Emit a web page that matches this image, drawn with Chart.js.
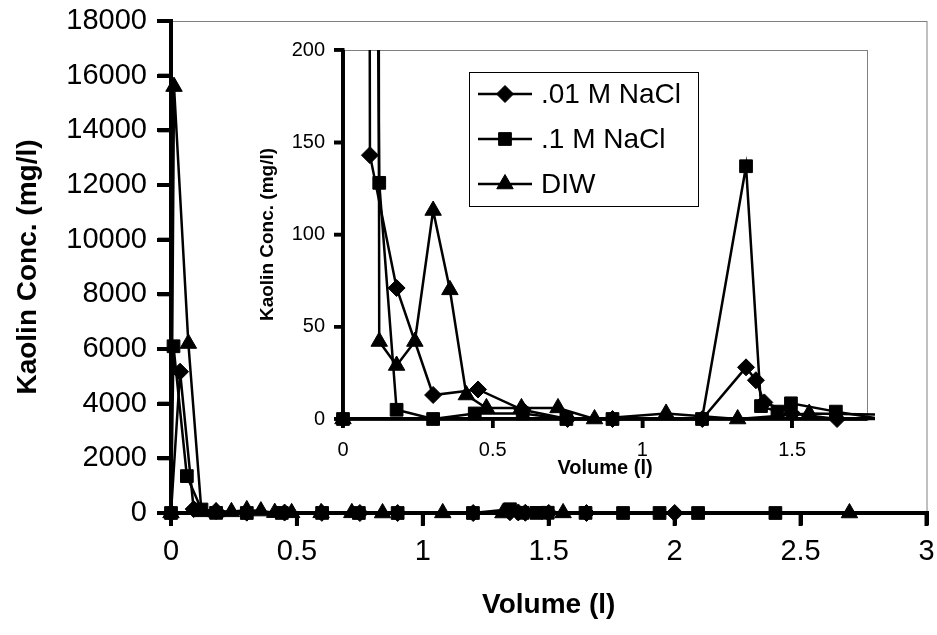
<!DOCTYPE html>
<html>
<head>
<meta charset="utf-8">
<script src="https://cdn.jsdelivr.net/npm/chart.js@4.4.0/dist/chart.umd.min.js"></script>
<style>
  body { margin: 0; background: #fff; }
  #wrap { position: relative; width: 937px; height: 635px; }
  #main { position: absolute; left: 0; top: 0; }
  #inset { position: absolute; left: 240px; top: 30px; }
</style>
</head>
<body>
<div id="wrap">
  <canvas id="main" width="937" height="635"></canvas>
  <canvas id="inset" width="640" height="460"></canvas>
</div>
<script>
// series data (volume in l, concentration in mg/l)
const seriesNames = ['.01 M NaCl', '.1 M NaCl', 'DIW'];

const lowVol  = [0, 0.036, 0.09, 0.179, 0.301, 0.451, 0.599, 0.75, 0.9, 1.2, 1.346, 1.379, 1.407, 1.5, 1.65, 2.0];
const lowConc = [0, 5170, 143, 71, 13, 16, 5, 0, 0, 0, 28, 21, 9, 3, 0, 0];

const highVol  = [0, 0.01, 0.063, 0.121, 0.179, 0.301, 0.44, 0.6, 0.746, 0.9, 1.199, 1.346, 1.396, 1.451, 1.496, 1.646, 1.795, 1.94, 2.093, 2.4];
const highConc = [0, 6100, 1350, 128, 5, 0, 3, 3, 0, 0, 0, 137, 7, 4, 8.5, 4, 0, 0, 0, 0];

const diwVol  = [0, 0.012, 0.069, 0.121, 0.179, 0.24, 0.301, 0.357, 0.412, 0.479, 0.596, 0.718, 0.84, 1.079, 1.318, 1.557, 2.694];
const diwConc = [0, 15600, 6200, 42, 29, 42, 113, 70, 13, 6, 6, 6, 0, 3, 0, 3, 0];

// tick values
const mainXTicks  = [0, 0.5, 1, 1.5, 2, 2.5, 3];
const mainYTicks  = [0, 2000, 4000, 6000, 8000, 10000, 12000, 14000, 16000, 18000];
const insetXTicks = [0, 0.5, 1, 1.5];
const insetYTicks = [0, 50, 100, 150, 200];

const FONT = "'Liberation Sans', Arial, sans-serif";

let pts = (xs, ys) => xs.map((x, i) => ({ x: x, y: ys[i] }));

let makeSets = () => [
  { label: seriesNames[0], data: pts(lowVol, lowConc), pointStyle: 'rectRot', pointRadius: 8.5 },
  { label: seriesNames[1], data: pts(highVol, highConc), pointStyle: 'rect', pointRadius: 9 },
  { label: seriesNames[2], data: pts(diwVol, diwConc), pointStyle: 'triangle', pointRadius: 9.5 }
].map(ds => Object.assign(ds, {
  showLine: true,
  borderColor: '#000',
  borderWidth: 2.5,
  backgroundColor: '#000',
  pointBackgroundColor: '#000',
  pointBorderColor: '#000',
  pointBorderWidth: 1,
  pointHoverRadius: ds.pointRadius,
  tension: 0
}));

// thin grey frame round the plot area, drawn under everything
const frame = {
  id: 'frame',
  beforeDraw(chart) {
    const a = chart.chartArea, ctx = chart.ctx;
    ctx.save();
    ctx.setLineDash([]);
    ctx.strokeStyle = '#808080';
    ctx.lineWidth = 1;
    ctx.strokeRect(a.left + 0.5, a.top + 0.5, a.right - a.left, a.bottom - a.top);
    ctx.restore();
  }
};

// heavy axis lines and outside tick marks, placed with the scales (filled, not stroked)
let axisMarks = (w, tick) => ({
  id: 'axisMarks',
  afterDraw(chart) {
    const ctx = chart.ctx, a = chart.chartArea;
    const xs = chart.scales.x, ys = chart.scales.y;
    ctx.save();
    ctx.globalAlpha = 1;
    ctx.globalCompositeOperation = 'source-over';
    ctx.fillStyle = '#000';
    ctx.fillRect(a.left - w / 2, a.top, w, a.bottom - a.top + w / 2);
    ctx.fillRect(a.left - w / 2, a.bottom - w / 2, a.right - a.left + w / 2, w);
    xs.ticks.forEach(t => {
      const px = xs.getPixelForValue(t.value);
      ctx.fillRect(px - w / 2, a.bottom, w, tick);
    });
    ys.ticks.forEach(t => {
      const py = ys.getPixelForValue(t.value);
      ctx.fillRect(a.left - tick, py - w / 2, tick, w);
    });
    ctx.restore();
  }
});

// boxed legend with line + marker samples
const boxLegend = {
  id: 'boxLegend',
  afterDraw(chart) {
    const ctx = chart.ctx;
    ctx.save();
    ctx.setLineDash([]);
    ctx.strokeStyle = '#000';
    ctx.lineWidth = 1;
    ctx.strokeRect(229.5, 42.5, 229, 134);
    ctx.font = '28px ' + FONT;
    ctx.textBaseline = 'middle';
    ctx.fillStyle = '#000';
    chart.data.datasets.forEach((ds, i) => {
      const y = 64 + i * 45;
      ctx.fillRect(238, y - 1.25, 54, 2.5);
      ctx.lineWidth = 1;
      Chart.helpers.drawPoint(ctx, { pointStyle: ds.pointStyle, radius: ds.pointRadius, borderWidth: 1, rotation: 0 }, 265, y);
      ctx.fillText(ds.label, 301, y + 1);
    });
    ctx.restore();
  }
};

let axis = (o) => ({
  type: 'linear',
  min: o.min, max: o.max,
  bounds: 'data',
  afterBuildTicks: s => { s.ticks = o.ticks.map(v => ({ value: v })); },
  afterFit: s => {
    if (o.width !== undefined) s.width = o.width;
    if (o.height !== undefined) s.height = o.height;
    s.paddingTop = 0; s.paddingBottom = 0; s.paddingLeft = 0; s.paddingRight = 0;
  },
  border: { display: true, color: '#000', width: o.line },
  grid: { display: true, drawOnChartArea: false, drawTicks: true, tickLength: o.tick, color: '#000', lineWidth: o.line },
  ticks: {
    autoSkip: false, maxRotation: 0, color: '#000', padding: o.pad,
    font: { family: FONT, size: o.size },
    callback: v => String(v)
  },
  title: {
    display: true, text: o.title, color: '#000',
    font: { family: FONT, size: o.titleSize, weight: 'bold' },
    padding: o.titlePad
  }
});

new Chart(document.getElementById('main'), {
  type: 'scatter',
  data: { datasets: makeSets() },
  options: {
    responsive: false, animation: false,
    layout: { padding: { top: 21, right: 10, left: 0, bottom: 0 } },
    plugins: { legend: { display: false }, tooltip: { enabled: false } },
    datasets: { scatter: { clip: false } },
    scales: {
      x: axis({ min: 0, max: 3, ticks: mainXTicks, height: 122, tick: 12, pad: 10, size: 29, line: 4,
                title: 'Volume (l)', titleSize: 28, titlePad: { top: 0, bottom: 13 } }),
      y: axis({ min: 0, max: 18000, ticks: mainYTicks, width: 171, tick: 14, pad: 10, size: 29, line: 4,
                title: 'Kaolin Conc. (mg/l)', titleSize: 28, titlePad: { top: 11, bottom: 0 } })
    }
  },
  plugins: [frame, axisMarks(4, 13)]
});

new Chart(document.getElementById('inset'), {
  type: 'scatter',
  data: { datasets: makeSets() },
  options: {
    responsive: false, animation: false,
    layout: { padding: { top: 20, right: 13, left: 0, bottom: 0 } },
    plugins: { legend: { display: false }, tooltip: { enabled: false } },
    datasets: { scatter: { clip: { left: 10, right: 8, top: 0, bottom: 10 } } },
    scales: {
      x: axis({ min: 0, max: 1.75, ticks: insetXTicks, height: 71, tick: 9, pad: 10, size: 20, line: 3.5,
                title: 'Volume (l)', titleSize: 20, titlePad: { top: 0, bottom: 10 } }),
      y: axis({ min: 0, max: 200, ticks: insetYTicks, width: 103, tick: 9, pad: 9, size: 20, line: 3.5,
                title: 'Kaolin Conc. (mg/l)', titleSize: 19, titlePad: { top: 16, bottom: 0 } })
    }
  },
  plugins: [frame, axisMarks(3.5, 9), boxLegend]
});
</script>
</body>
</html>
